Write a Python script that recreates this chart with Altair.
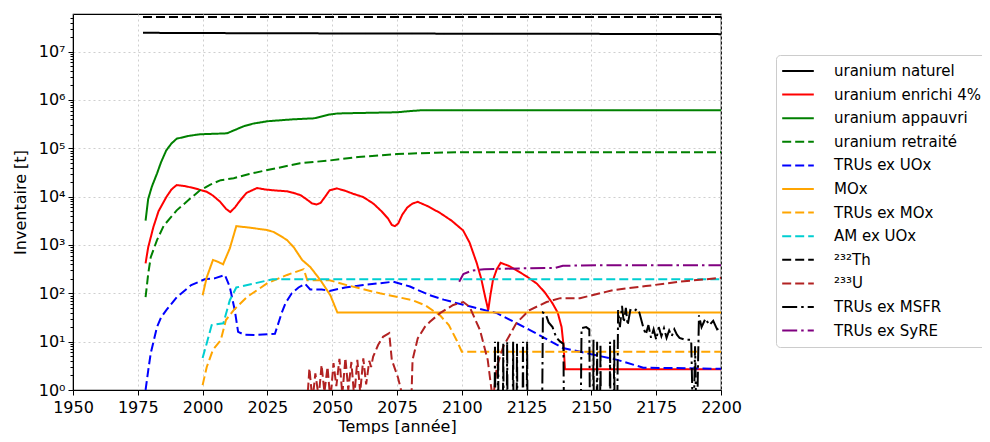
import altair as alt
import pandas as pd

FONT = "DejaVu Sans"

# ---------------- data ----------------
series_names = [
    "uranium naturel", "uranium enrichi 4%", "uranium appauvri", "uranium retraité",
    "TRUs ex UOx", "MOx", "TRUs ex MOx", "AM ex UOx", "²³²Th", "²³³U",
    "TRUs ex MSFR", "TRUs ex SyRE",
]
series_colors = ["#000000", "#ff0000", "#008000", "#008000", "#0000ff", "#ffa500",
                 "#ffa500", "#00ced1", "#000000", "#b22222", "#000000", "#800080"]
DASH, SOLID, DASHDOT = [9, 4], [1, 0], [15, 4, 2.5, 4]
series_dashes = [SOLID, SOLID, SOLID, DASH, DASH, SOLID, DASH, DASH, DASH, DASH, DASHDOT, DASHDOT]

nat_years = [1977, 2000, 2050, 2100, 2150, 2200]
nat_vals = [2.45e7, 2.42e7, 2.38e7, 2.35e7, 2.33e7, 2.3e7]

th_years = [1977, 2200]
th_vals = [5.2e7, 5.2e7]

enr_years = [1978, 1979, 1981, 1983, 1986, 1988, 1990, 1993, 1996.5, 2001.6, 2004, 2006.8,
             2009, 2010.7, 2012.5, 2014.6, 2017, 2021, 2024, 2027.5, 2032.6, 2035, 2037.8,
             2040, 2042.3, 2044, 2045.5, 2047, 2049, 2051.8, 2055, 2058, 2062, 2066, 2069,
             2071.5, 2073, 2074.2, 2075.5, 2077, 2079, 2081, 2083, 2087, 2091.6, 2096,
             2100.5, 2103, 2105.8, 2107.5, 2109, 2110.2, 2111, 2112, 2113.5, 2115, 2118,
             2121, 2125, 2129, 2132, 2135, 2137, 2138.5, 2139.3, 2139.8, 2200]
enr_vals = [417, 890, 2.34e3, 5.0e3, 9.8e3, 1.41e4, 1.74e4, 1.66e4, 1.51e4, 1.26e4, 1.05e4,
            7.8e3, 5.6e3, 4.8e3, 6.0e3, 8.5e3, 1.2e4, 1.51e4, 1.41e4, 1.35e4, 1.29e4, 1.2e4,
            1.07e4, 8.9e3, 7.2e3, 6.9e3, 7.4e3, 9.5e3, 1.35e4, 1.48e4, 1.32e4, 1.15e4, 9.8e3,
            7.1e3, 5.0e3, 3.55e3, 2.6e3, 2.45e3, 2.8e3, 4.2e3, 6.0e3, 7.2e3, 7.8e3, 6.3e3,
            4.6e3, 3.2e3, 2.0e3, 1.12e3, 417, 200, 85, 45, 89, 186, 316, 427, 372, 302, 224,
            158, 105, 62, 40, 20, 7.9, 2.7, 2.7]

app_years = [1978, 1979, 1980.4, 1982.4, 1984, 1986, 1988, 1990, 1995, 1999, 2005, 2009.4,
             2012, 2016, 2019.5, 2025, 2035, 2043, 2049, 2052, 2060, 2075, 2080, 2084, 2200]
app_vals = [3.2e3, 8.9e3, 1.6e4, 3.0e4, 5.2e4, 9.1e4, 1.26e5, 1.58e5, 1.82e5, 1.95e5, 2.0e5,
            2.04e5, 2.34e5, 2.88e5, 3.24e5, 3.63e5, 3.98e5, 4.17e5, 5.0e5, 5.25e5, 5.37e5,
            5.56e5, 5.89e5, 6.1e5, 6.1e5]

ret_years = [1978, 1979, 1980, 1982.4, 1985, 1990, 1995, 1999, 2003, 2007, 2012, 2018, 2025,
             2037.6, 2049, 2060, 2075, 2090, 2101, 2200]
ret_vals = [83, 250, 560, 1.26e3, 2.5e3, 5.2e3, 8.9e3, 1.35e4, 1.78e4, 2.19e4, 2.4e4, 2.95e4,
            3.55e4, 4.9e4, 5.6e4, 6.6e4, 7.6e4, 8.1e4, 8.3e4, 8.3e4]

truox_years = [1978, 1979, 1980, 1982.4, 1984, 1986, 1990, 1995.6, 2000.8, 2004.6, 2008.6,
               2010.5, 2012.4, 2013.7, 2016, 2020.2, 2027.9, 2030.5, 2032, 2034.4, 2037,
               2039.5, 2041.5, 2046, 2049, 2055, 2062, 2073.6, 2080, 2087.7, 2093, 2100.5,
               2113.5, 2126.3, 2139, 2152, 2160, 2170, 2200]
truox_vals = [1.0, 2.5, 5.8, 20, 32, 45, 83, 148, 195, 204, 240, 135, 45, 16, 14, 13.8, 14.5,
              39, 63, 100, 132, 158, 120, 120, 112, 132, 148, 174, 138, 91, 74, 58, 39, 17.4,
              7.4, 5.2, 4.2, 2.9, 2.75]

mox_years = [2000, 2001.6, 2004, 2006, 2007.9, 2010.5, 2013, 2018, 2024.8, 2027.4, 2030,
             2032.6, 2035.2, 2038.4, 2041.6, 2045.5, 2049.3, 2052, 2200]
mox_vals = [91, 214, 490, 447, 398, 851, 2.45e3, 2.29e3, 2.04e3, 1.86e3, 1.55e3, 1.26e3, 891,
            490, 347, 186, 91, 40, 40]

trumox_years = [2000, 2001.6, 2004, 2007, 2009, 2012, 2017, 2025, 2032.6, 2039, 2040.4, 2049,
                2055.6, 2068.4, 2081, 2086, 2091.6, 2095, 2098, 2100, 2200]
trumox_vals = [1.26, 3.0, 6.8, 10.7, 28, 45, 83, 162, 240, 316, 186, 186, 148, 100, 72, 56, 35,
               22, 10.7, 6.2, 6.2]

am_years = [2000, 2001.6, 2003.5, 2008, 2010.5, 2013, 2019.5, 2027, 2200]
am_vals = [4.6, 9.3, 22, 24, 72, 132, 158, 195, 195]

u233_years = [2040.3, 2041.2, 2042.4, 2043.5, 2044.8, 2045.9, 2047.0, 2048.2, 2049.3, 2050.5,
              2051.6, 2052.8, 2053.9, 2055.1, 2056.2, 2057.4, 2058.5, 2059.7, 2060.8, 2062.0,
              2063.1, 2064.3, 2065.0, 2065.8, 2067.7, 2069.6, 2072, 2073, 2075.4, 2077, 2079,
              2080.6, 2081, 2083, 2085.8, 2087.7, 2091.6, 2096.7, 2100.6, 2103, 2107, 2110,
              2112, 2113.5, 2116, 2121, 2126, 2132.7, 2138, 2145.6, 2158.5, 2171, 2184, 2200]
u233_vals = [0.5, 2.8, 0.6, 2.2, 0.7, 3.3, 0.9, 3.0, 0.6, 3.6, 1.2, 4.4, 0.8, 4.6, 1.0, 3.8,
             0.7, 4.2, 0.9, 4.5, 1.3, 4.0, 3.0, 4.9, 8.5, 12.6, 15, 4.2, 1.8, 0.8, 0.5, 0.8, 4.2,
             11.7, 20.4, 25.7, 38.9, 57.5, 66, 52.5, 17.4, 4.2, 0.6, 3.0, 7.9, 24, 44.7, 66,
             79.4, 79.4, 117, 141, 174, 209]

msfr_years = [2112.6, 2112.8, 2113.0, 2113.8, 2114.0, 2114.2, 2115.8, 2116.0, 2116.2,
              2117.3, 2117.5, 2117.7, 2119.6, 2119.8, 2120.0, 2121.1, 2121.3, 2121.5,
              2123.4, 2123.6, 2123.8, 2125.0, 2125.2, 2125.4,
              2130.9, 2131.3, 2132.3, 2133.5, 2135.0, 2136.5, 2138.0, 2139.2, 2139.5,
              2145.8, 2146.2, 2148.0, 2149.2, 2149.5,
              2150.6, 2150.8, 2151.0, 2152.0, 2152.2, 2152.4, 2153.3, 2153.5, 2153.7,
              2157.0, 2157.2, 2157.4, 2158.6, 2158.8, 2159.0,
              2159.9, 2160.3, 2161.0, 2161.8, 2162.5, 2163.3, 2164.0, 2165.0, 2166.5, 2167.5,
              2168.5, 2170.0, 2171.0, 2172.0, 2173.0, 2174.0, 2175.0, 2176.0, 2177.0, 2178.0,
              2179.0, 2180.0, 2181.0, 2182.0, 2183.0, 2184.0, 2186.0, 2188.5, 2189.3, 2190.0,
              2190.6, 2191.5, 2192.5, 2194.0, 2195.5, 2197.0, 2198.5, 2200.0]
msfr_vals = [0.1, 10, 0.1, 0.1, 10, 0.1, 0.1, 9, 0.1,
             0.1, 10, 0.1, 0.1, 10, 0.1, 0.1, 9, 0.1,
             0.1, 10, 0.1, 0.1, 10, 0.1,
             0.1, 40, 38, 25, 20, 12, 10, 9, 0.1,
             0.1, 19, 20, 18, 0.1,
             0.1, 11, 0.1, 0.1, 10, 0.1, 0.1, 9, 0.1,
             0.1, 10, 0.1, 0.1, 11, 0.1,
             0.1, 45, 20, 55, 25, 50, 22, 45, 42, 48,
             40, 20, 14, 22, 12, 18, 11, 20, 13, 19,
             12, 17, 13, 18, 14, 12, 11, 11, 0.1, 8,
             0.1, 35, 20, 30, 22, 27, 18, 20]

syre_years = [2099, 2100.6, 2104, 2108.6, 2126, 2136, 2139, 2152, 2200]
syre_vals = [173, 251, 295, 316, 331, 335, 372, 380, 380]

x_ticks = [1950, 1975, 2000, 2025, 2050, 2075, 2100, 2125, 2150, 2175, 2200]
y_ticks = [1, 10, 100, 1e3, 1e4, 1e5, 1e6, 1e7]
y_minor = [m * 10 ** k for k in range(0, 8) for m in range(2, 10) if m * 10 ** k < 6e7]

# ---------------- table ----------------
all_series = [
    (nat_years, nat_vals), (enr_years, enr_vals), (app_years, app_vals),
    (ret_years, ret_vals), (truox_years, truox_vals), (mox_years, mox_vals),
    (trumox_years, trumox_vals), (am_years, am_vals), (th_years, th_vals),
    (u233_years, u233_vals), (msfr_years, msfr_vals), (syre_years, syre_vals),
]
rows = []
for name, (ys, vs) in zip(series_names, all_series):
    for i, (yr, v) in enumerate(zip(ys, vs)):
        rows.append({"year": yr, "value": v, "series": name, "idx": i})
df = pd.DataFrame(rows)

x_scale = alt.Scale(domain=[1950, 2200], nice=False, zero=False)
y_scale = alt.Scale(type="log", domain=[1, 6e7], nice=False)

sup = "['⁰','¹','²','³','⁴','⁵','⁶','⁷','⁸']"

lines = alt.Chart(df).mark_line(strokeWidth=2, clip=True).encode(
    x=alt.X("year:Q", scale=x_scale,
            axis=alt.Axis(values=x_ticks, format="d", title="Temps [année]",
                          grid=True, gridDash=[2, 3], gridColor="#cfcfcf", labelFlush=False,
                          tickSize=5, labelPadding=4, titlePadding=3)),
    y=alt.Y("value:Q", scale=y_scale,
            axis=alt.Axis(values=y_ticks, orient="left", title="Inventaire [t]",
                          labelExpr="'10' + " + sup + "[round(log(datum.value)/LN10)]",
                          grid=True, gridDash=[2, 3], gridColor="#cfcfcf", labelFlush=False,
                          tickSize=5, labelPadding=3, titlePadding=10)),
    color=alt.Color("series:N", sort=series_names,
                    scale=alt.Scale(domain=series_names, range=series_colors),
                    legend=alt.Legend(orient="none", legendX=703, legendY=41, title=None,
                                      symbolType="stroke", symbolStrokeWidth=2,
                                      symbolSize=1000, labelOffset=19, clipHeight=22,
                                      rowPadding=1.6, padding=5, strokeColor="#cccccc",
                                      cornerRadius=4, fillColor="white", labelLimit=400)),
    strokeDash=alt.StrokeDash("series:N", sort=series_names,
                              scale=alt.Scale(domain=series_names, range=series_dashes),
                              legend=None),
    detail="series:N",
    order="idx:Q",
)

minor = alt.Chart(df).mark_point(opacity=0, clip=True).encode(
    y=alt.Y("value:Q", scale=y_scale,
            axis=alt.Axis(values=y_minor, orient="left", labels=False, tickSize=3,
                          grid=False, domain=False, title=None)),
)

chart = alt.layer(lines, minor).resolve_axis(y="independent").properties(
    width=648, height=376,
    autosize=alt.AutoSizeParams(type="none"),
    padding={"left": 65, "top": 6, "right": 261, "bottom": 44},
).configure_view(stroke="black", strokeWidth=1.2).configure_axis(
    labelFont=FONT, titleFont=FONT, labelFontSize=16, titleFontSize=16,
    titleFontWeight="normal", labelColor="black", titleColor="black",
    domainColor="black", tickColor="black",
).configure_legend(labelFont=FONT, labelFontSize=15, labelColor="black")

chart.save("out.html", embed_options={"renderer": "svg", "actions": False})
